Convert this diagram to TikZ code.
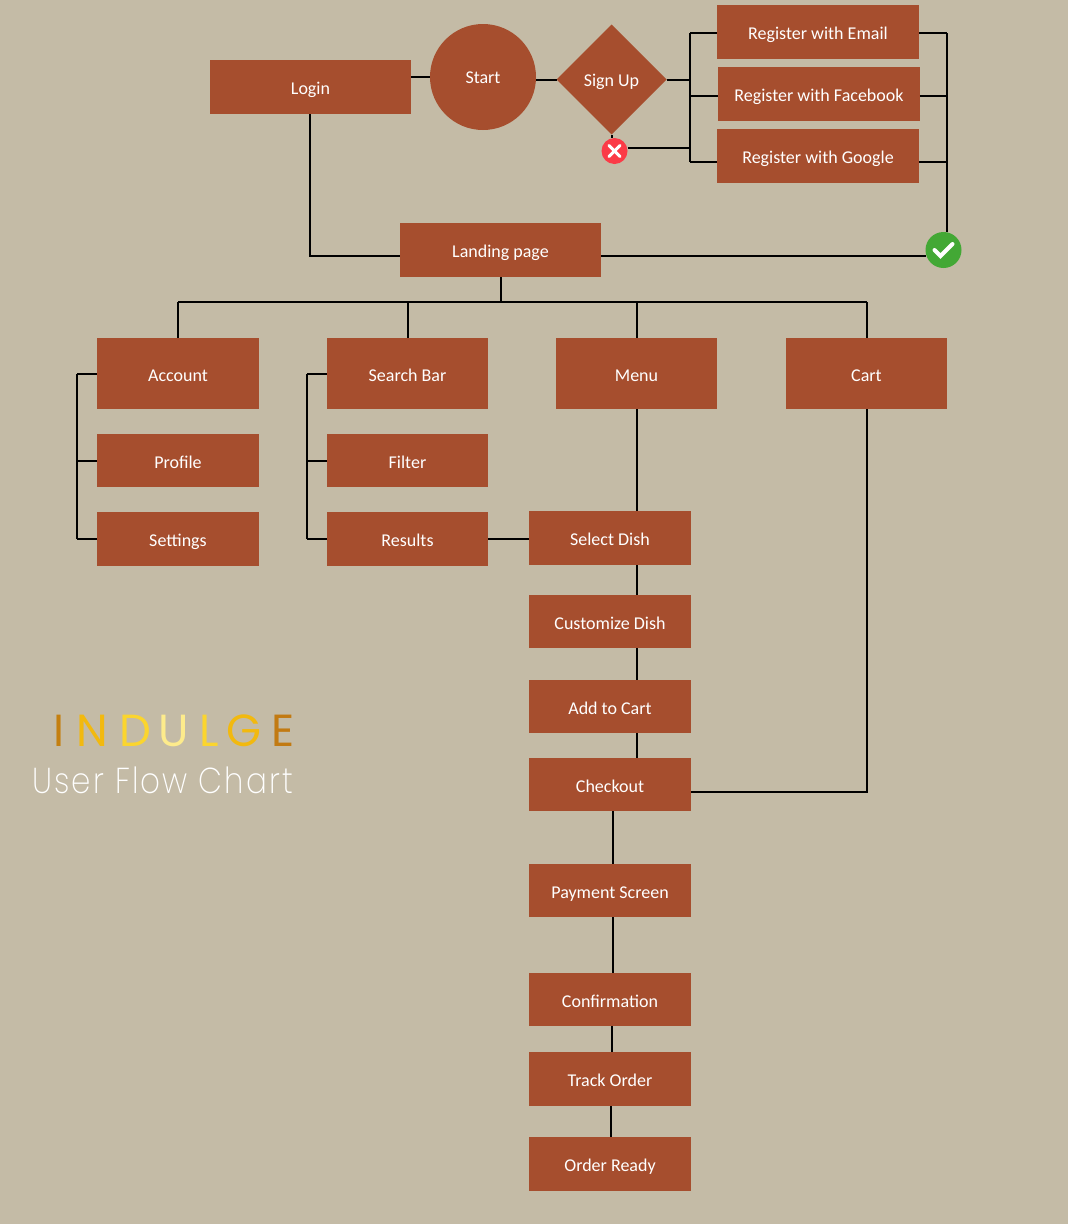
\documentclass[tikz,border=0pt]{standalone}
\usepackage{fontspec}
\setmainfont{Carlito}
\newfontfamily\titlefont{Poppins}
\newfontfamily\subfont{Poppins ExtraLight}
\usetikzlibrary{shapes.geometric}
\usetikzlibrary{calc}
\definecolor{paper}{HTML}{C4BBA6}
\definecolor{brick}{HTML}{A64E2E}
\definecolor{goldA}{HTML}{C47F10}
\definecolor{goldB}{HTML}{F2B90F}
\definecolor{goldC}{HTML}{FBD52E}
\definecolor{goldD}{HTML}{FDEB8C}
\definecolor{goldE}{HTML}{C27A12}
\definecolor{okgreen}{HTML}{43A835}
\definecolor{nored}{HTML}{FB3B47}
\tikzset{
    box/.style={fill=brick, text=white, draw=none, outer sep=0pt, inner sep=0pt, font=\fontsize{18}{20}\selectfont, text height=15pt, text depth=0pt},
    wide/.style={box, minimum width=201.5pt, minimum height=54pt},
    tall/.style={box, minimum width=161.5pt, minimum height=71pt},
    item/.style={box, minimum width=161.5pt, minimum height=54pt},
    link/.style={draw=black, line width=2pt},
    badge/.style={circle, draw=none, inner sep=0pt, outer sep=0pt},
    glyph/.style={draw=white, line width=3pt, line cap=round},
    gold/.style={font=\titlefont\fontsize{45}{47}\selectfont, inner sep=0pt, anchor=base}
}
\begin{document}
\begin{tikzpicture}[x=1pt, y=-1pt]
    \useasboundingbox (0,0) rectangle (1068,1224);
    \fill[paper] (0,0) rectangle (1068,1224);

    % top row
    \node[wide] (login) at (310.5,87) {Login};
    \node[box, circle, minimum size=106pt, text height=13pt] (start) at (483,77) {Start};
    \node[box, diamond, minimum size=110pt, text height=13pt] (signup) at (611.5,79.5) {Sign Up};
    \node[wide] (email) at (818,32) {Register with Email};
    \node[wide] (facebook) at (819,94) {Register with Facebook};
    \node[wide] (google) at (818,156) {Register with Google};
    \node[wide] (landing) at (500.5,250) {Landing page};
    \node[badge, fill=nored, minimum size=26pt] (cross) at (614.5,151) {};
    \node[badge, fill=okgreen, minimum size=36pt] (tick) at (943.5,250) {};

    % second row
    \node[tall] (account) at (178,373.5) {Account};
    \node[tall] (search) at (407.5,373.5) {Search Bar};
    \node[tall] (menu) at (636.5,373.5) {Menu};
    \node[tall] (cart) at (866.5,373.5) {Cart};
    \node[item, minimum height=53pt] (profile) at (178,460.5) {Profile};
    \node[item] (settings) at (178,539) {Settings};
    \node[item, minimum height=53pt] (filter) at (407.5,460.5) {Filter};
    \node[item] (results) at (407.5,539) {Results};

    % order column
    \node[item] (select) at (610,538) {Select Dish};
    \node[item, minimum height=53pt] (customize) at (610,621.5) {Customize Dish};
    \node[item, minimum height=53pt] (addcart) at (610,706.5) {Add to Cart};
    \node[item, minimum height=53pt] (checkout) at (610,784.5) {Checkout};
    \node[item, minimum height=53pt] (payment) at (610,890.5) {Payment Screen};
    \node[item, minimum height=53pt] (confirm) at (610,999.5) {Confirmation};
    \node[item] (track) at (610,1079) {Track Order};
    \node[item] (ready) at (610,1164) {Order Ready};

    % junctions
    \coordinate (regbus) at (690,80);
    \coordinate (okbus) at (947,33);
    \coordinate (topbus) at (500.5,302);
    \coordinate (accbus) at (77,373);
    \coordinate (seabus) at (307,372);
    \coordinate (landwire) at (500,255.5);
    \coordinate (crosswire) at (650,147.5);
    \coordinate (cartwire) at (750,792);

    \draw[link] (login.east |- start.west) -- (start.west);
    \draw[link] (start.east |- signup.west) -- (signup.west);
    \draw[link] (signup.east) -- (regbus |- signup.east);
    \draw[link] ([yshift=-1pt]regbus |- email.west) -- ([yshift=-6pt]regbus |- google.west);
    \foreach \r/\d in {email/1,facebook/2,google/6} {
        \draw[link] ([yshift=-\d pt]regbus |- \r.west) -- ([yshift=-\d pt]\r.west);
        \draw[link] ([yshift=-\d pt]\r.east) -- ([yshift=-\d pt]okbus |- \r.east);
    }
    \draw[link] (signup.south) -- (signup.south |- cross.north);
    \draw[link] (cross.east |- crosswire) -- (regbus |- crosswire);
    \draw[link] (okbus) -- (okbus |- tick.north);
    \draw[link] (login.south -| 310,0) |- (landing.west |- landwire);
    \draw[link] (landing.east |- landwire) -- (tick.west |- landwire);

    % tree below the landing page
    \draw[link] (landing.south) -- (topbus);
    \draw[link] (account.north |- topbus) -- (cart.north |- topbus);
    \foreach \t in {account,search,menu,cart} {
        \draw[link] (\t.north |- topbus) -- (\t.north);
    }
    \foreach \t in {account,profile,settings} {
        \draw[link] (accbus |- \t.west) -- (\t.west);
    }
    \draw[link] (accbus |- account.west) -- (accbus |- settings.west);
    \foreach \t in {search,filter,results} {
        \draw[link] (seabus |- \t.west) -- (\t.west);
    }
    \draw[link] (seabus |- search.west) -- (seabus |- results.west);

    % order column
    \draw[link] (results.east) -- (results.east -| select.west);
    \draw[link] (menu.south) -- (menu.south |- select.north);
    \draw[link] (menu.south |- select.south) -- (menu.south |- customize.north);
    \draw[link] (menu.south |- customize.south) -- (menu.south |- addcart.north);
    \draw[link] (menu.south |- addcart.south) -- (menu.south |- checkout.north);
    \draw[link] (checkout.east |- cartwire) -| (cart.south);
    \draw[link] ([xshift=3pt]checkout.south) -- ([xshift=3pt]payment.north);
    \draw[link] ([xshift=3pt]payment.south) -- ([xshift=3pt]confirm.north);
    \draw[link] ([xshift=2pt]confirm.south) -- ([xshift=2pt]track.north);
    \draw[link] ([xshift=1pt]track.south) -- ([xshift=1pt]ready.north);

    % badges
    \draw[glyph] ([shift={(-5.5,-5.5)}]cross.center) -- ([shift={(5.5,5.5)}]cross.center);
    \draw[glyph] ([shift={(-5.5,5.5)}]cross.center) -- ([shift={(5.5,-5.5)}]cross.center);
    \draw[glyph, line width=4pt] ([shift={(-9,0)}]tick.center) -- ([shift={(-3,6)}]tick.center) -- ([shift={(9,-6)}]tick.center);

    % title
    \foreach \c/\x/\l/\col in {i/59/I/goldA, n/92.5/N/goldB, d/135/D/goldC, u/174/U/goldD, l/209/L/goldC, g/244/G/goldB, e/283.5/E/goldE} {
        \node[gold, text=\col] (title\c) at (\x,746) {\l};
    }
    \node[font=\subfont\fontsize{36}{38}\selectfont, text=white, inner sep=0pt, anchor=base west] (subtitle) at (32,793) {\addfontfeature{FakeStretch=0.86,LetterSpace=6}User Flow Chart};
\end{tikzpicture}
\end{document}
